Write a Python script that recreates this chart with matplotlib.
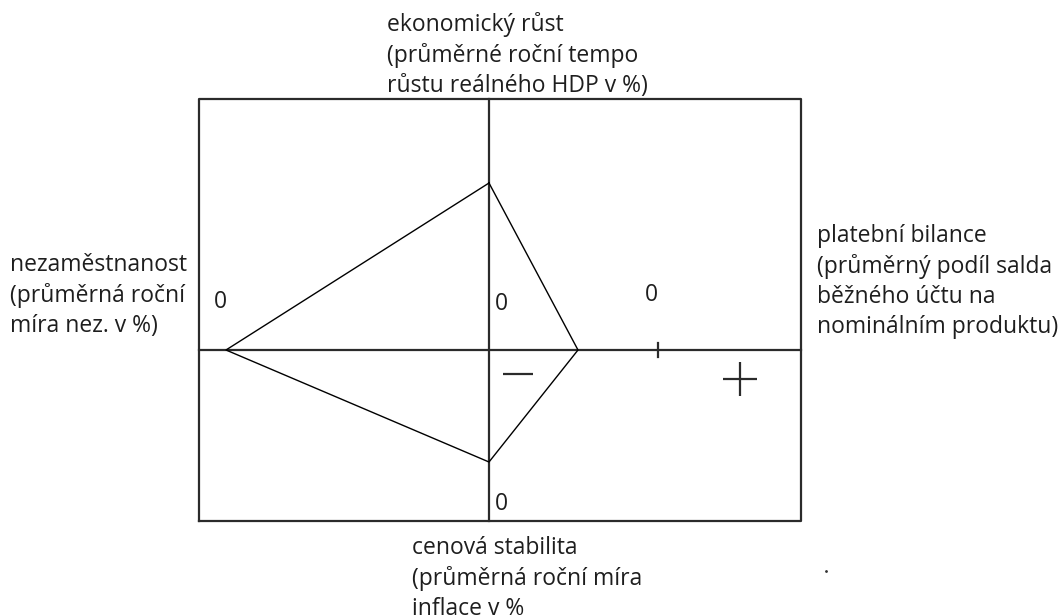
import matplotlib.pyplot as plt

# magic quadrangle - axis labels (clockwise from top)
labels = [
    "ekonomický růst\n(průměrné roční tempo\nrůstu reálného HDP v %)",
    "platební bilance\n(průměrný podíl salda\nběžného účtu na\nnominálním produktu)",
    "cenová stabilita\n(průměrná roční míra\ninflace v %",
    "nezaměstnanost\n(průměrná roční\nmíra nez. v %)",
]
# vertices of the quadrangle on each axis (top, right, bottom, left)
growth = 167
balance = 89
inflation = -112
unemployment = -263
# zero point on payment balance axis
balance_zero = 169

# frame of the diagram
box_left, box_right = -290, 312
box_bottom, box_top = -171, 251

fig = plt.figure(figsize=(10.64, 6.15), dpi=100)
ax = fig.add_axes([0, 0, 1, 1])
ax.set_xlim(-489, 575)
ax.set_ylim(-265, 350)
ax.axis('off')

axc = '#2b2b2b'
ax.plot([box_left, box_right, box_right, box_left, box_left],
        [box_bottom, box_bottom, box_top, box_top, box_bottom], color=axc, lw=1.6)
ax.plot([box_left, box_right], [0, 0], color=axc, lw=1.6)
ax.plot([0, 0], [box_bottom, box_top], color=axc, lw=1.6)

xs = [0, balance, 0, unemployment, 0]
ys = [growth, 0, inflation, 0, growth]
ax.plot(xs, ys, color='black', lw=1.0)

# tick for zero on balance axis
ax.plot([balance_zero, balance_zero], [-7, 7], color=axc, lw=1.6)

# signs
ax.plot([29], [-24], marker='_', markersize=21, markeredgewidth=1.6, color=axc)
ax.plot([251], [-29], marker='+', markersize=25, markeredgewidth=1.6, color=axc)

fs = 16.5
fk = dict(family='Open Sans', fontsize=fs, color='#1e1e1e')
zk = dict(family='Open Sans', fontsize=fs, color='#1e1e1e', ha='center', va='center')
ax.text(unemployment - 6, 48, '0', **zk)
ax.text(12, 46, '0', **zk)
ax.text(balance_zero - 7, 55, '0', **zk)
ax.text(12, -154, '0', **zk)

ls = 1.33
ax.text(-102, 338, labels[0], ha='left', va='top', linespacing=ls, **fk)
ax.text(328, 126, labels[1], ha='left', va='top', linespacing=ls, **fk)
ax.text(-77, -186, labels[2], ha='left', va='top', linespacing=ls, **fk)
ax.text(-479, 97, labels[3], ha='left', va='top', linespacing=ls, **fk)

ax.plot([337], [-221], marker='.', markersize=2, color='#333333')

fig.savefig('out.png', dpi=100)
